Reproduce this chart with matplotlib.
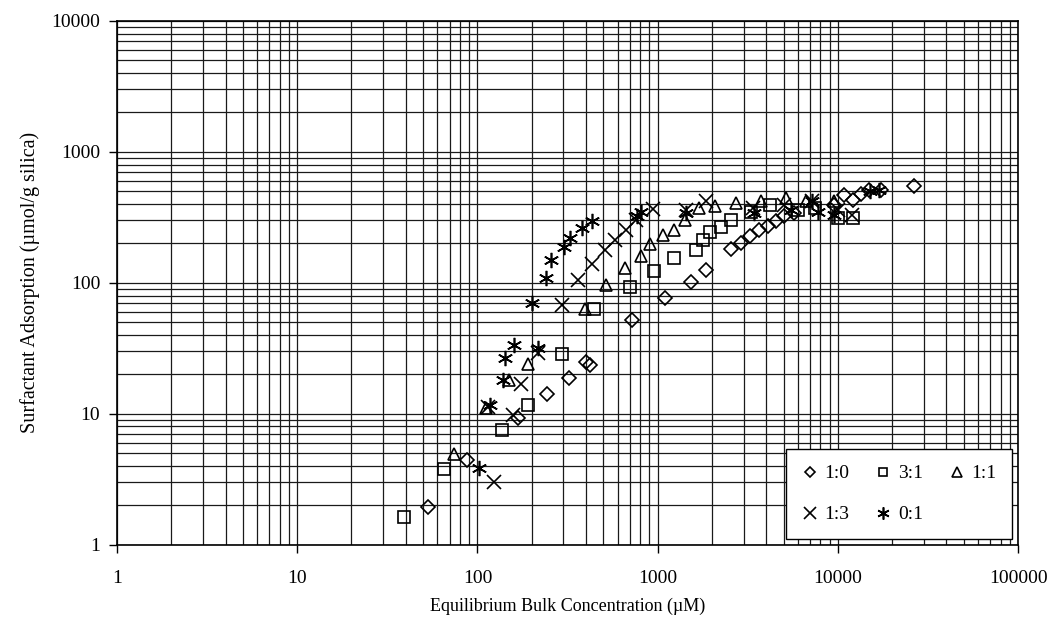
import matplotlib.pyplot as plt
from matplotlib.ticker import LogLocator, NullFormatter, FixedFormatter, FixedLocator

plt.rcParams['font.family'] = ['Liberation Serif', 'DejaVu Serif']

# 1:0 (diamonds)
x_10 = [53, 88, 168, 243, 324, 400, 420, 722, 1104, 1534, 1858, 2553, 2904, 3258,
        3666, 4077, 4536, 5046, 5729, 9550, 10860, 12070, 13500, 14930, 17330, 26530]
y_10 = [1.93, 4.46, 9.3, 14.1, 18.9, 25, 23.5, 51.6, 76.4, 102, 126, 181, 201, 228,
        251, 272, 297, 321, 344, 394, 470, 430, 480, 507, 507, 544]

# 3:1 (squares)
x_31 = [39, 65, 136, 190, 296, 446, 698, 951, 1239, 1634, 1778, 1955, 2249, 2553,
        3300, 4200, 6000, 7500, 9960, 12070]
y_31 = [1.64, 3.8, 7.5, 11.7, 28.6, 63, 93, 124, 154, 179, 213, 246, 269, 303,
        350, 390, 360, 370, 312, 312]

# 1:1 (triangles)
x_11 = [74, 112, 150, 190, 393, 518, 655, 803, 908, 1067, 1239, 1409, 1705, 2091,
        2724, 3748, 5155, 6653, 9550]
y_11 = [4.95, 11.0, 18, 24.1, 63, 96.6, 130, 161, 198, 233, 254, 303, 372, 383,
        405, 418, 443, 418, 418]

# 1:3 (crosses)
x_13 = [123.5, 114, 157, 174, 216, 296, 361, 433, 507, 576, 663, 760, 939, 1440,
        1858, 3400, 5000, 7200, 10000, 12000]
y_13 = [3.04, 11.3, 9.8, 16.9, 29, 68, 105, 139, 179, 213, 254, 303, 365, 360,
        418, 370, 390, 420, 360, 330]

# 0:1 (asterisks)
x_01 = [102, 117, 138, 142, 159, 216, 201, 241, 257, 304, 327, 381, 433, 766, 809,
        1440, 3440, 5500, 7213, 7800, 9500, 15000, 17000]
y_01 = [3.89, 11.6, 18.2, 26.6, 33.6, 31.7, 70, 109, 150, 187, 219, 262, 294, 321, 350,
        341, 341, 360, 418, 350, 330, 500, 510]

fig = plt.figure(figsize=(10.54, 6.32), dpi=100)
ax = fig.add_axes([0.111, 0.138, 0.855, 0.829])

mk = dict(linestyle='none', color='black', markerfacecolor='none', markeredgewidth=1.2)
h10, = ax.plot(x_10, y_10, marker='D', markersize=7, label='1:0', **mk)
h31, = ax.plot(x_31, y_31, marker='s', markersize=8, label='3:1', **mk)
h11, = ax.plot(x_11, y_11, marker='^', markersize=9, label='1:1', **mk)
h13, = ax.plot(x_13, y_13, marker='x', markersize=10, label='1:3', **mk)
h01, = ax.plot(x_01, y_01, marker=(6, 2, 0), markersize=11, label='0:1', **mk)

ax.set_xscale('log')
ax.set_yscale('log')
ax.set_xlim(1, 100000)
ax.set_ylim(1, 10000)

xt = [1, 10, 100, 1000, 10000, 100000]
yt = [1, 10, 100, 1000, 10000]
ax.xaxis.set_major_locator(FixedLocator(xt))
ax.xaxis.set_major_formatter(FixedFormatter([str(v) for v in xt]))
ax.yaxis.set_major_locator(FixedLocator(yt))
ax.yaxis.set_major_formatter(FixedFormatter([str(v) for v in yt]))
for axis in (ax.xaxis, ax.yaxis):
    axis.set_minor_locator(LogLocator(base=10, subs=range(2, 10)))
    axis.set_minor_formatter(NullFormatter())

ax.grid(True, which='both', color='#1a1a1a', linewidth=0.9)
ax.set_axisbelow(True)
ax.tick_params(which='major', direction='out', length=6, width=1, labelsize=14)
ax.tick_params(axis='x', which='major', pad=12)
ax.tick_params(axis='y', which='major', pad=6)
ax.tick_params(which='minor', length=0)
for s in ax.spines.values():
    s.set_linewidth(1.2)

ax.set_xlabel('Equilibrium Bulk Concentration (µM)', fontsize=13, labelpad=8)
ax.set_ylabel('Surfactant Adsorption (µmol/g silica)', fontsize=14.5, labelpad=8)

# row-wise order: 1:0 3:1 1:1 / 1:3 0:1
leg = ax.legend([h10, h13, h31, h01, h11], ['1:0', '1:3', '3:1', '0:1', '1:1'],
                loc='lower right', ncol=3, fontsize=14, frameon=True, fancybox=False,
                edgecolor='black', framealpha=1, borderaxespad=0.3, handletextpad=0.3,
                columnspacing=1.3, handlelength=0.9, borderpad=0.8, labelspacing=1.2,
                markerscale=0.8)
leg.get_frame().set_linewidth(1.0)

fig.savefig('out.png', dpi=100)
